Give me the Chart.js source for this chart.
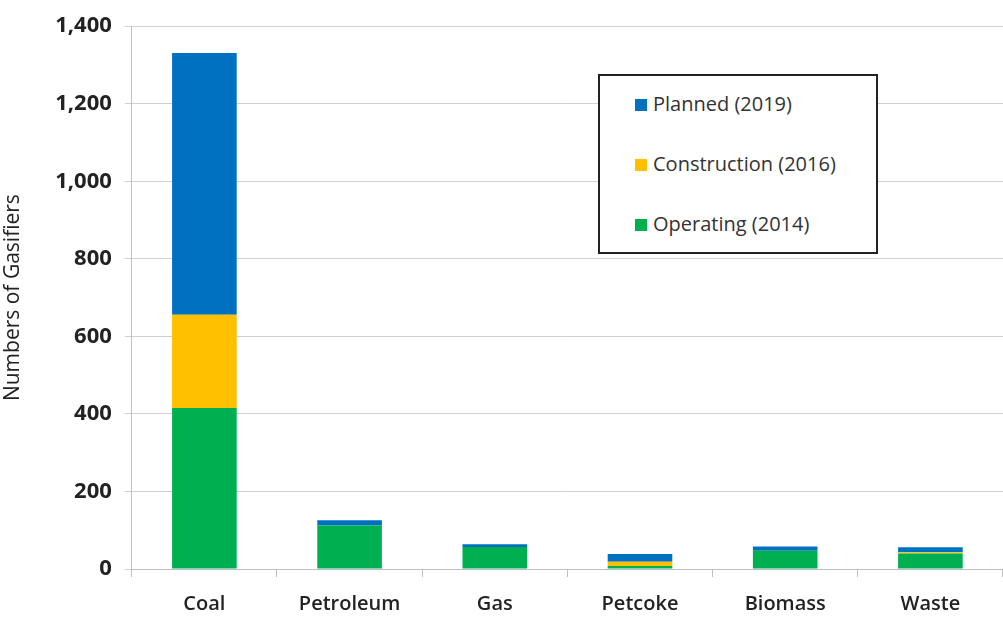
<!DOCTYPE html>
<html>
<head>
<meta charset="utf-8">
<script src="https://cdn.jsdelivr.net/npm/chart.js@4"></script>
<style>
  body { margin: 0; background: #fff; }
  #wrap { position: relative; width: 1003px; height: 617px; }
  #legend {
    position: absolute; left: 598px; top: 74px; width: 280px; height: 180px;
    border: 2px solid #222; background: #fff; box-sizing: border-box;
    font-family: 'Open Sans', sans-serif; font-size: 20px; color: #333;
  }
  #legend div { position: absolute; left: 35px; line-height: 24px; }
  #legend span.sw { display: inline-block; width: 12px; height: 12px; margin-right: 6px; vertical-align: 0px; }
</style>
</head>
<body>
<div id="wrap">
  <canvas id="chart1" width="1003" height="617"></canvas>
  <div id="legend"></div>
</div>
<script>
const categories = ['Coal', 'Petroleum', 'Gas', 'Petcoke', 'Biomass', 'Waste']
const operating = [415, 112, 57, 8, 47, 40]
const construction = [241, 0, 0, 11, 0, 3]
const planned = [675, 14, 7, 20, 11, 13]
const yTicks = [0, 200, 400, 600, 800, 1000, 1200, 1400]

var ctx = document.getElementById('chart1').getContext('2d')

const data1 = {
  labels: categories,
  datasets: [
    { label: 'Operating (2014)', data: operating, backgroundColor: '#00B050' },
    { label: 'Construction (2016)', data: construction, backgroundColor: '#FFC000' },
    { label: 'Planned (2019)', data: planned, backgroundColor: '#0070C0' },
  ],
}

const config1 = {
  type: 'bar',
  data: data1,
  options: {
    responsive: false,
    animation: false,
    layout: { padding: { top: 3, right: 0, left: 0, bottom: 0 } },
    datasets: { bar: { categoryPercentage: 1, barPercentage: 0.445 } },
    plugins: { legend: { display: false }, tooltip: { enabled: false } },
    scales: {
      x: {
        stacked: true,
        afterFit: function (scale) { scale.height = 48 },
        grid: { offset: true, drawOnChartArea: false, tickLength: 8, color: '#bfbfbf' },
        border: { color: '#bfbfbf' },
        ticks: { color: '#222', font: { family: 'Open Sans', size: 20, weight: '600' }, padding: 15 },
      },
      y: {
        stacked: true,
        min: 0,
        max: 1400,
        afterBuildTicks: function (axis) { axis.ticks = yTicks.map(v => ({ value: v })) },
        grid: { color: '#d0d0d0', tickLength: 7 },
        border: { color: '#bfbfbf' },
        ticks: {
          color: '#222',
          font: { family: 'Open Sans', size: 22, weight: 'bold' },
          padding: 13,
          callback: v => v.toLocaleString('en-US'),
        },
        title: { display: true, text: 'Numbers of Gasifiers', color: '#222', font: { family: 'Open Sans', size: 21, weight: '500' }, padding: { top: 0, bottom: 17 } },
      },
    },
  },
}
var chart1 = new Chart(ctx, config1)

// legend box, top item = top of the stack
var legendEl = document.getElementById('legend')
var items = data1.datasets.slice().reverse()
items.forEach(function (ds, i) {
  var row = document.createElement('div')
  row.style.top = (16 + i * 60) + 'px'
  row.innerHTML = '<span class="sw" style="background:' + ds.backgroundColor + '"></span>' + ds.label
  legendEl.appendChild(row)
})
</script>
</body>
</html>
